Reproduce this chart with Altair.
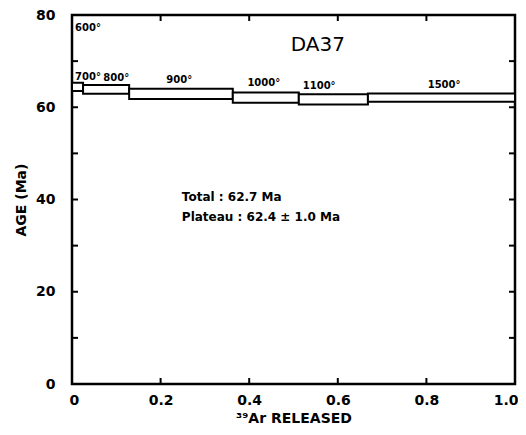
import altair as alt
import pandas as pd

# Step heating data (fraction of 39Ar released, apparent ages in Ma)
steps = ["700°", "800°", "900°", "1000°", "1100°", "1500°"]
x_start = [0.0, 0.025, 0.129, 0.363, 0.512, 0.668]
x_end = [0.025, 0.129, 0.363, 0.512, 0.668, 1.0]
age_high = [65.3, 64.8, 64.0, 63.2, 62.8, 63.0]
age_low = [63.5, 62.9, 61.8, 61.0, 60.6, 61.2]

# Temperature labels
temp_labels = ["600°", "700°", "800°", "900°", "1000°", "1100°", "1500°"]
temp_x = [0.007, 0.007, 0.100, 0.242, 0.433, 0.558, 0.840]
temp_y = [77.2, 66.6, 66.4, 65.8, 65.2, 64.6, 64.8]
temp_align = ["left", "left", "center", "center", "center", "center", "center"]

# Annotations
notes = ["Total : 62.7 Ma", "Plateau : 62.4 ± 1.0 Ma"]
notes_x = [0.248, 0.248]
notes_y = [40.5, 36.2]
sample = "DA37"
sample_x = 0.555
sample_y = 73.5

x_ticks = [0.2, 0.4, 0.6, 0.8]
y_ticks = [10, 20, 30, 40, 50, 60, 70]

W, H = 443, 369
FONT = "DejaVu Sans"

xs = alt.Scale(domain=[0, 1], nice=False, zero=False)
ys = alt.Scale(domain=[0, 80], nice=False, zero=False)

xaxis = alt.Axis(title="³⁹Ar  RELEASED", values=[0, 0.2, 0.4, 0.6, 0.8, 1.0],
                 labelExpr="datum.value == 0 ? '0' : format(datum.value, '.1f')",
                 ticks=False, domain=False, grid=False, labelPadding=9,
                 labelFontSize=14, labelFontWeight="bold", labelFont=FONT,
                 titleFontSize=14, titleFontWeight="bold", titleFont=FONT,
                 titlePadding=4, labelColor="black", titleColor="black",
                 labelFlush=True, labelFlushOffset=3)
yaxis = alt.Axis(title="AGE (Ma)", values=[0, 20, 40, 60, 80],
                 ticks=False, domain=False, grid=False, labelPadding=17,
                 labelFontSize=14, labelFontWeight="bold", labelFont=FONT,
                 titleFontSize=14, titleFontWeight="bold", titleFont=FONT,
                 titlePadding=7, labelColor="black", titleColor="black",
                 labelFlush=False)

df_steps = pd.DataFrame({"step": steps, "x0": x_start, "x1": x_end,
                         "hi": age_high, "lo": age_low})
df_temp = pd.DataFrame({"t": temp_labels, "x": temp_x, "y": temp_y, "a": temp_align})
df_notes = pd.DataFrame({"t": notes, "x": notes_x, "y": notes_y})
df_sample = pd.DataFrame({"t": [sample], "x": [sample_x], "y": [sample_y]})
df_xt = pd.DataFrame({"v": x_ticks})
df_yt = pd.DataFrame({"v": y_ticks})


def X(f):
    return alt.X(f, scale=xs, axis=xaxis)


def Y(f):
    return alt.Y(f, scale=ys, axis=yaxis)


rects = alt.Chart(df_steps).mark_rect(fill="white", stroke="black", strokeWidth=2).encode(
    x=X("x0:Q"), x2="x1:Q", y=Y("lo:Q"), y2="hi:Q",
)


def temp_layer(al):
    return alt.Chart(df_temp).transform_filter(alt.datum.a == al).mark_text(
        fontSize=10, fontWeight="bold", font=FONT, align=al,
        baseline="middle", color="black").encode(
        x=X("x:Q"), y=Y("y:Q"), text="t:N",
    )


note_text = alt.Chart(df_notes).mark_text(fontSize=12, fontWeight="bold", font=FONT,
                                          align="left", baseline="middle", color="black").encode(
    x=X("x:Q"), y=Y("y:Q"), text="t:N",
)

sample_text = alt.Chart(df_sample).mark_text(fontSize=20, font=FONT, align="center",
                                             baseline="middle", color="black").encode(
    x=X("x:Q"), y=Y("y:Q"), text="t:N",
)

tk = 6
xt_bottom = alt.Chart(df_xt).mark_rule(color="black", strokeWidth=2).encode(
    x=X("v:Q"), y=alt.value(H), y2=alt.value(H - tk))
xt_top = alt.Chart(df_xt).mark_rule(color="black", strokeWidth=2).encode(
    x=X("v:Q"), y=alt.value(0), y2=alt.value(tk))
yt_left = alt.Chart(df_yt).mark_rule(color="black", strokeWidth=2).encode(
    y=Y("v:Q"), x=alt.value(0), x2=alt.value(tk))
yt_right = alt.Chart(df_yt).mark_rule(color="black", strokeWidth=2).encode(
    y=Y("v:Q"), x=alt.value(W - tk), x2=alt.value(W))

chart = alt.layer(rects, temp_layer("left"), temp_layer("center"), note_text, sample_text,
                  xt_bottom, xt_top, yt_left, yt_right).properties(
    width=W, height=H,
    background="white",
    autosize=alt.AutoSizeParams(type="none"),
    padding={"left": 64, "top": 7, "right": 3, "bottom": 43},
).configure_view(stroke="black", strokeWidth=2.5)

chart.save("out.html", embed_options={"renderer": "svg", "actions": False})
